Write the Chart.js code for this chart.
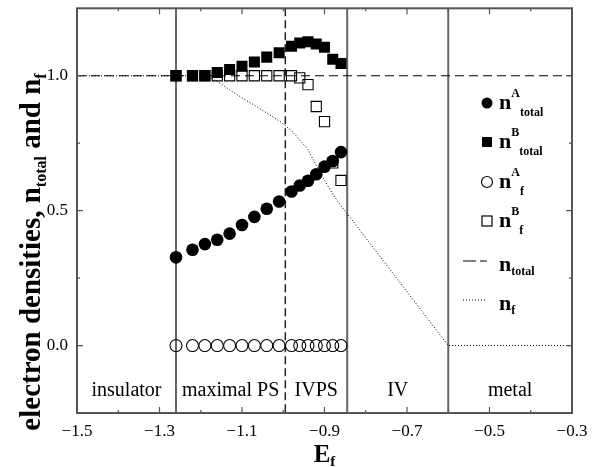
<!DOCTYPE html>
<html>
<head>
<meta charset="utf-8">
<script src="https://cdn.jsdelivr.net/npm/chart.js@4.4.1/dist/chart.umd.min.js"></script>
<style>
  html, body { margin: 0; padding: 0; background: #fff; }
  #chart { display: block; }
</style>
</head>
<body>
<canvas id="chart" width="607" height="467"></canvas>
<script>
// Ef values where the two-sublattice solution was computed
const eGrid = [-1.26, -1.22, -1.19, -1.16, -1.13, -1.10, -1.07, -1.04, -1.01,
               -0.98, -0.96, -0.94, -0.92, -0.90, -0.88, -0.86];
const nTotalA = [0.327, 0.355, 0.376, 0.392, 0.415, 0.447, 0.477, 0.507, 0.534,
                 0.571, 0.593, 0.611, 0.635, 0.663, 0.684, 0.717];
const nTotalB = [1.0, 1.0, 1.0, 1.012, 1.023, 1.035, 1.051, 1.069, 1.085,
                 1.109, 1.121, 1.126, 1.118, 1.106, 1.061, 1.045];
const nfA = [0, 0, 0, 0, 0, 0, 0, 0, 0, 0, 0, 0, 0, 0, 0, 0];
const nfB = [1.0, 1.0, 1.0, 1.0, 1.0, 1.0, 1.0, 1.0, 1.0,
             1.0, 0.992, 0.967, 0.886, 0.830, 0.677, 0.612];

// homogeneous solution
const nTotalLineE = [-1.5, -0.3];
const nTotalLine = [1.0, 1.0];
const nfLineE = [-1.5, -1.19, -1.16, -1.13, -1.10, -1.07, -1.04, -1.01, -0.98, -0.96,
                 -0.94, -0.92, -0.90, -0.88, -0.86, -0.845, -0.6, -0.3];
const nfLine = [1.0, 1.0, 0.979, 0.948, 0.918, 0.891, 0.862, 0.833, 0.797, 0.762,
                0.726, 0.668, 0.613, 0.561, 0.518, 0.489, 0.0, 0.0];

// phase regions
const regionBounds = [-1.26, -0.995, -0.845, -0.6];
const regionNames = ['insulator', 'maximal PS', 'IVPS', 'IV', 'metal'];

// axis ticks
const xTicks = [-1.5, -1.3, -1.1, -0.9, -0.7, -0.5, -0.3];
const xMinorTicks = [-1.4, -1.2, -1.0, -0.8, -0.6, -0.4];
const yTicks = [0.0, 0.5, 1.0];
const yMinorTicks = [0.25, 0.75];

const serif = "'Liberation Serif', 'DejaVu Serif', serif";

function pts(xs, ys) {
    return xs.map((x, i) => ({ x: x, y: ys[i] }));
}

// vertical phase boundaries and their names, under the data
const regionPlugin = {
    id: 'regions',
    beforeDatasetsDraw(chart) {
        const { ctx, chartArea, scales } = chart;
        const xs = scales.x;
        ctx.save();
        regionBounds.forEach((b, i) => {
            const px = xs.getPixelForValue(b);
            ctx.beginPath();
            if (i === 1) {
                ctx.strokeStyle = '#222';
                ctx.lineWidth = 1.5;
                ctx.setLineDash([8, 4]);
            } else {
                ctx.strokeStyle = '#666';
                ctx.lineWidth = 2;
                ctx.setLineDash([]);
            }
            ctx.moveTo(px, chartArea.top);
            ctx.lineTo(px, chartArea.bottom);
            ctx.stroke();
        });
        ctx.setLineDash([]);
        const edges = [xs.min].concat(regionBounds, [xs.max]);
        ctx.fillStyle = '#000';
        ctx.font = '20px ' + serif;
        ctx.textAlign = 'center';
        ctx.textBaseline = 'middle';
        regionNames.forEach((name, i) => {
            const mid = (edges[i] + edges[i + 1]) / 2;
            ctx.fillText(name, xs.getPixelForValue(mid), 391);
        });
        ctx.restore();
    }
};

// draws a run of text pieces with sub/superscripts
function drawRich(ctx, parts, x, y) {
    let cx = x;
    parts.forEach(p => {
        ctx.font = 'bold ' + p.size + 'px ' + serif;
        ctx.fillText(p.t, cx, y + (p.dy || 0));
        cx += ctx.measureText(p.t).width;
    });
    return cx - x;
}
function richWidth(ctx, parts) {
    let w = 0;
    parts.forEach(p => {
        ctx.font = 'bold ' + p.size + 'px ' + serif;
        w += ctx.measureText(p.t).width;
    });
    return w;
}

// frame, inward ticks, axis titles and legend
const framePlugin = {
    id: 'frame',
    afterDraw(chart) {
        const { ctx, chartArea, scales } = chart;
        const { left, right, top, bottom } = chartArea;
        ctx.save();
        ctx.strokeStyle = '#555';
        ctx.lineWidth = 2;
        ctx.strokeRect(left, top, right - left, bottom - top);

        ctx.lineWidth = 1.2;
        const tickX = (v, len) => {
            const px = scales.x.getPixelForValue(v);
            ctx.beginPath();
            ctx.moveTo(px, bottom); ctx.lineTo(px, bottom - len);
            ctx.moveTo(px, top); ctx.lineTo(px, top + len);
            ctx.stroke();
        };
        const tickY = (v, len) => {
            const py = scales.y.getPixelForValue(v);
            ctx.beginPath();
            ctx.moveTo(left, py); ctx.lineTo(left + len, py);
            ctx.moveTo(right, py); ctx.lineTo(right - len, py);
            ctx.stroke();
        };
        xTicks.forEach(v => tickX(v, 6));
        xMinorTicks.forEach(v => tickX(v, 3));
        yTicks.forEach(v => tickY(v, 6));
        yMinorTicks.forEach(v => tickY(v, 3));

        ctx.fillStyle = '#000';
        ctx.textAlign = 'left';
        ctx.textBaseline = 'alphabetic';

        // x title
        const xParts = [{ t: 'E', size: 25 }, { t: 'f', size: 15, dy: 4 }];
        const xw = richWidth(ctx, xParts);
        drawRich(ctx, xParts, (left + right) / 2 - xw / 2, 462);

        // y title, rotated
        const yParts = [
            { t: 'electron densities, n', size: 29 },
            { t: 'total', size: 16, dy: 6 },
            { t: ' and n', size: 29 },
            { t: 'f', size: 16, dy: 6 }
        ];
        const yw = richWidth(ctx, yParts);
        ctx.save();
        ctx.translate(40, 252);
        ctx.rotate(-Math.PI / 2);
        drawRich(ctx, yParts, -yw / 2, 0);
        ctx.restore();

        // legend
        const mx = 487, tx = 499;
        const rows = [
            { y: 103, kind: 'circle', fill: true, sup: 'A', sub: 'total' },
            { y: 142, kind: 'square', fill: true, sup: 'B', sub: 'total' },
            { y: 182, kind: 'circle', fill: false, sup: 'A', sub: 'f' },
            { y: 221, kind: 'square', fill: false, sup: 'B', sub: 'f' },
            { y: 261, kind: 'dash', sub: 'total' },
            { y: 300, kind: 'dot', sub: 'f' }
        ];
        rows.forEach(r => {
            ctx.strokeStyle = '#000';
            ctx.fillStyle = '#000';
            ctx.lineWidth = 1.2;
            ctx.setLineDash([]);
            if (r.kind === 'circle') {
                ctx.beginPath();
                ctx.arc(mx, r.y, 5.5, 0, Math.PI * 2);
                r.fill ? ctx.fill() : ctx.stroke();
            } else if (r.kind === 'square') {
                r.fill ? ctx.fillRect(mx - 5, r.y - 5, 10, 10)
                       : ctx.strokeRect(mx - 5, r.y - 5, 10, 10);
            } else {
                ctx.beginPath();
                ctx.lineWidth = 1;
                ctx.setLineDash(r.kind === 'dash' ? [13, 4] : [1, 2]);
                ctx.moveTo(463, r.y); ctx.lineTo(487, r.y);
                ctx.stroke();
                ctx.setLineDash([]);
            }
            let parts;
            if (r.sup) {
                parts = [
                    { t: 'n', size: 22 },
                    { t: r.sup, size: 12, dy: -12 },
                    { t: r.sub, size: 12, dy: 7 }
                ];
                drawRich(ctx, parts, tx, r.y + 6);
            } else {
                parts = [{ t: 'n', size: 22 }, { t: r.sub, size: 12, dy: 4 }];
                drawRich(ctx, parts, tx, r.y + 10);
            }
        });
        ctx.restore();
    }
};

new Chart(document.getElementById('chart'), {
    type: 'scatter',
    data: {
        datasets: [
            {
                label: 'nA total',
                data: pts(eGrid, nTotalA),
                pointStyle: 'circle',
                pointRadius: 6.3,
                backgroundColor: '#000',
                borderColor: '#000',
                borderWidth: 0,
                showLine: false
            },
            {
                label: 'nB total',
                data: pts(eGrid, nTotalB),
                pointStyle: 'rect',
                pointRadius: 7.8,
                backgroundColor: '#000',
                borderColor: '#000',
                borderWidth: 0,
                showLine: false
            },
            {
                label: 'nA f',
                data: pts(eGrid, nfA),
                pointStyle: 'circle',
                pointRadius: 6,
                backgroundColor: 'rgba(0,0,0,0)',
                borderColor: '#000',
                borderWidth: 1.1,
                showLine: false
            },
            {
                label: 'nB f',
                data: pts(eGrid, nfB),
                pointStyle: 'rect',
                pointRadius: 7.2,
                backgroundColor: 'rgba(0,0,0,0)',
                borderColor: '#000',
                borderWidth: 1.1,
                showLine: false
            },
            {
                label: 'n total',
                data: pts(nTotalLineE, nTotalLine),
                showLine: true,
                pointRadius: 0,
                borderColor: '#000',
                borderWidth: 1,
                borderDash: [9, 5],
                tension: 0
            },
            {
                label: 'n f',
                data: pts(nfLineE, nfLine),
                showLine: true,
                pointRadius: 0,
                borderColor: '#000',
                borderWidth: 1,
                borderDash: [1, 2],
                tension: 0
            }
        ]
    },
    options: {
        responsive: false,
        animation: false,
        devicePixelRatio: 1,
        layout: { padding: { top: 4, right: 35, left: 0, bottom: 0 } },
        plugins: {
            legend: { display: false },
            tooltip: { enabled: false }
        },
        scales: {
            x: {
                type: 'linear',
                position: 'bottom',
                min: -1.5,
                max: -0.3,
                grid: { display: false },
                border: { display: false },
                afterBuildTicks: s => { s.ticks = xTicks.map(v => ({ value: v })); },
                afterFit: s => { s.height = 54; s.paddingLeft = 0; s.paddingRight = 0; },
                ticks: {
                    padding: 0,
                    color: '#000',
                    maxRotation: 0,
                    autoSkip: false,
                    font: { family: serif, size: 17 },
                    callback: v => '\u2212' + Math.abs(v).toFixed(1)
                }
            },
            y: {
                type: 'linear',
                min: -0.25,
                max: 1.25,
                grid: { display: false },
                border: { display: false },
                afterBuildTicks: s => { s.ticks = yTicks.map(v => ({ value: v })); },
                afterFit: s => { s.width = 77; s.paddingTop = 0; s.paddingBottom = 0; },
                ticks: {
                    padding: 1,
                    color: '#000',
                    font: { family: serif, size: 17 },
                    callback: v => v.toFixed(1)
                }
            }
        }
    },
    plugins: [regionPlugin, framePlugin]
});
</script>
</body>
</html>
